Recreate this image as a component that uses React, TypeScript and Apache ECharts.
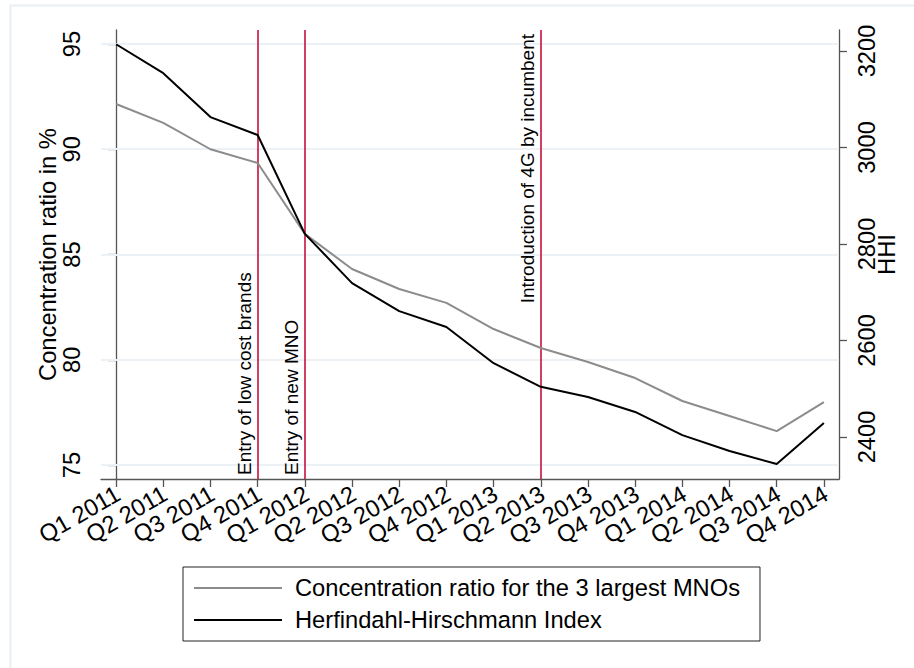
import React, { useEffect, useRef } from "react";
import * as echarts from "echarts";

const categories = [
  "Q1 2011", "Q2 2011", "Q3 2011", "Q4 2011",
  "Q1 2012", "Q2 2012", "Q3 2012", "Q4 2012",
  "Q1 2013", "Q2 2013", "Q3 2013", "Q4 2013",
  "Q1 2014", "Q2 2014", "Q3 2014", "Q4 2014",
];
const concentration = [92.15, 91.25, 90.0, 89.35, 85.98, 84.31, 83.36, 82.7, 81.46, 80.56, 79.89, 79.13, 78.04, 77.33, 76.61, 77.99];
const hhi = [3214, 3154, 3063, 3026, 2821, 2719, 2661, 2628, 2553, 2504, 2483, 2452, 2404, 2371, 2344, 2429];
const leftTicks = [75, 80, 85, 90, 95];
const rightTicks = [2400, 2600, 2800, 3000, 3200];
const eventIndex = [3, 4, 9];
const eventLabels = ["Entry of low cost brands", "Entry of new MNO", "Introduction of 4G by incumbent"];
const eventAtTop = [false, false, true];

const FONT = '"Liberation Sans", Arial, sans-serif';
const AXIS = "#555555";
const RED = "#c8103b";
const FS = 23.7;
const LEFT_MIN = 74.335;
const LEFT_MAX = 95.665;

export default function App() {
  const ref = useRef<HTMLDivElement>(null);
  useEffect(() => {
    if (!ref.current) return;
    const chart = echarts.init(ref.current, null, { renderer: "svg" });
    const idx = categories.map((_, i) => i);
    const frame = {
      id: "frame",
      type: "rect",
      shape: { x: 10.5, y: 5.5, width: 1000, height: 1000 },
      style: { fill: "none", stroke: "#e9f0f3", lineWidth: 2 },
      silent: true,
      z: -10,
    };
    const option = {
      animation: false,
      backgroundColor: "#ffffff",
      textStyle: { fontFamily: FONT },
      graphic: [frame],
      grid: { left: 101, right: 75, top: 30, bottom: 189, containLabel: false, outerBoundsMode: "none" },
      legend: {
        orient: "vertical",
        left: 183,
        top: 567,
        padding: [8, 20, 8, 11],
        itemGap: 6,
        itemWidth: 88,
        itemHeight: 2,
        icon: "rect",
        borderColor: "#222",
        borderWidth: 1,
        borderRadius: 0,
        data: ["Concentration ratio for the 3 largest MNOs", "Herfindahl-Hirschmann Index"],
        textStyle: { fontSize: FS, color: "#000", fontFamily: FONT, lineHeight: 26, padding: [0, 0, 0, 8] },
      },
      xAxis: {
        type: "value",
        min: -0.32,
        max: 15.32,
        splitLine: { show: false },
        axisLine: { show: true, onZero: false, lineStyle: { color: AXIS, width: 1.3 } },
        axisTick: { show: true, customValues: idx, length: 8, lineStyle: { color: AXIS, width: 1.3 } },
        axisLabel: { show: false },
      },
      yAxis: [
        {
          type: "value",
          position: "left",
          min: LEFT_MIN,
          max: LEFT_MAX,
          name: "Concentration ratio in %",
          nameLocation: "middle",
          nameRotate: 90,
          nameGap: 41,
          nameMoveOverlap: false,
          nameTextStyle: { fontSize: FS, color: "#000", fontFamily: FONT },
          splitLine: { show: false },
          axisLine: { show: true, lineStyle: { color: AXIS, width: 1.3 } },
          axisTick: { show: true, customValues: leftTicks, length: 8, lineStyle: { color: AXIS, width: 1.3 } },
          axisLabel: {
            customValues: leftTicks,
            formatter: (v: number) => String(v),
            rotate: 90,
            fontSize: FS,
            color: "#000",
            fontFamily: FONT,
            margin: 17,
            showMinLabel: true,
            showMaxLabel: true,
          },
        },
        {
          type: "value",
          position: "right",
          min: 2313,
          max: 3243.5,
          name: "HHI",
          nameLocation: "middle",
          nameRotate: 90,
          nameGap: 36,
          nameMoveOverlap: false,
          nameTextStyle: { fontSize: FS, color: "#000", fontFamily: FONT },
          splitLine: { show: false },
          axisLine: { show: true, lineStyle: { color: AXIS, width: 1.3 } },
          axisTick: { show: true, customValues: rightTicks, length: 8, lineStyle: { color: AXIS, width: 1.3 } },
          axisLabel: {
            customValues: rightTicks,
            formatter: (v: number) => String(v),
            rotate: 90,
            fontSize: FS,
            color: "#000",
            fontFamily: FONT,
            margin: 16,
            showMinLabel: true,
            showMaxLabel: true,
          },
        },
      ],
      series: [
        {
          name: "grid",
          type: "line",
          yAxisIndex: 0,
          data: [],
          silent: true,
          z: 1,
          markLine: {
            z: 1,
            silent: true,
            symbol: "none",
            label: { show: false },
            lineStyle: { color: "#ebf1f4", width: 2, type: "solid" },
            data: leftTicks.map((t) => ({ yAxis: t })),
          },
        },
        {
          name: "events",
          type: "line",
          yAxisIndex: 0,
          data: [],
          silent: true,
          z: 2,
          markLine: {
            z: 2,
            silent: true,
            symbol: "none",
            lineStyle: { color: RED, width: 1.6, type: "solid" },
            data: eventIndex.map((e, i) => ({
              xAxis: e,
              label: {
                show: true,
                formatter: eventLabels[i],
                position: eventAtTop[i] ? "insideEndTop" : "insideStartTop",
                fontSize: 19,
                color: "#000",
                fontFamily: FONT,
                distance: [4, 4],
              },
            })),
          },
        },
        {
          name: "Concentration ratio for the 3 largest MNOs",
          type: "line",
          yAxisIndex: 0,
          data: concentration.map((v, i) => [i, v]),
          symbol: "none",
          lineStyle: { color: "#8c8c8c", width: 2 },
          itemStyle: { color: "#8c8c8c" },
          z: 3,
        },
        {
          name: "Herfindahl-Hirschmann Index",
          type: "line",
          yAxisIndex: 1,
          data: hhi.map((v, i) => [i, v]),
          symbol: "none",
          lineStyle: { color: "#000000", width: 2 },
          itemStyle: { color: "#000000" },
          z: 4,
        },
      ],
    };
    chart.setOption(option as any);

    // Category labels for the quarter axis, placed through the axis scale.
    const labels = categories.map((c, i) => {
      const p = chart.convertToPixel({ xAxisIndex: 0, yAxisIndex: 0 }, [i, LEFT_MIN]) as number[];
      return {
        id: "xl" + i,
        type: "text",
        x: p[0] + 2,
        y: p[1] + 13,
        rotation: Math.PI / 6,
        silent: true,
        style: {
          text: c,
          font: `${FS}px ${FONT}`,
          fill: "#000",
          align: "right",
          verticalAlign: "middle",
        },
      };
    });
    chart.setOption({ graphic: [frame, ...labels] } as any);
    return () => chart.dispose();
  }, []);
  return <div ref={ref} style={{ width: 914, height: 668, position: "absolute", left: 0, top: 0 }} />;
}
